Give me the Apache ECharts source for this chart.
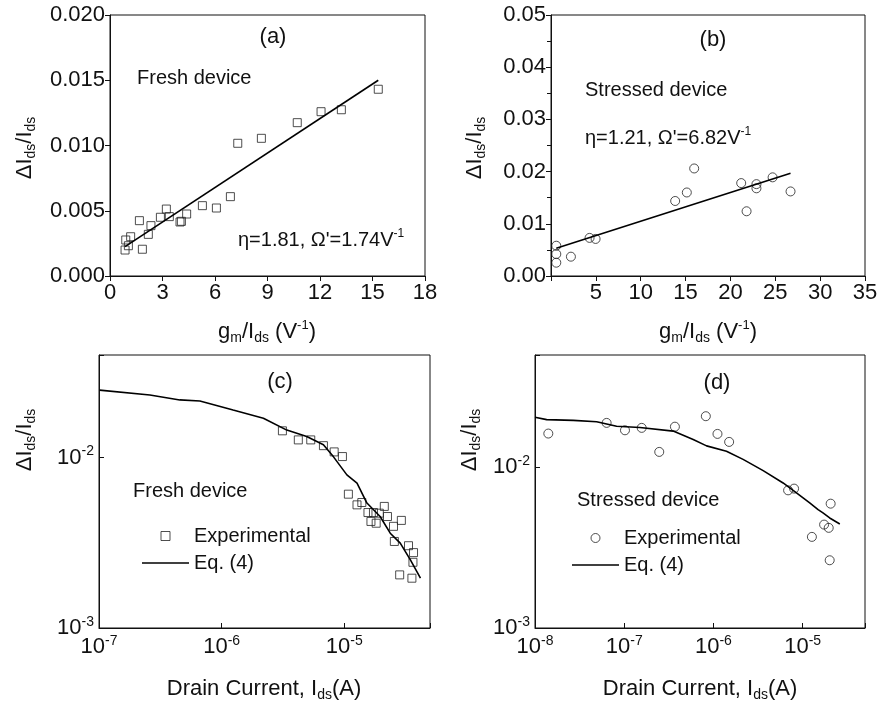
<!DOCTYPE html>
<html>
<head>
<meta charset="utf-8">
<script src="https://cdn.jsdelivr.net/npm/echarts@6/dist/echarts.min.js"></script>
<style>
  html, body { margin: 0; padding: 0; background: #fff; }
  #chart { width: 882px; height: 708px; }
</style>
</head>
<body>
<div id="chart"></div>
<script>
// (a) fresh device, dI/I vs gm/Ids
var freshGm = [0.86, 0.90, 1.05, 1.18, 1.68, 1.85, 2.19, 2.34, 2.88, 3.22, 3.39, 4.00, 4.08, 4.38, 5.28, 6.08, 6.88, 7.30, 8.65, 10.70, 12.06, 13.22, 15.33];
var freshDI = [0.00199, 0.00276, 0.00232, 0.00301, 0.00424, 0.00205, 0.00319, 0.00386, 0.00450, 0.00513, 0.00455, 0.00414, 0.00419, 0.00475, 0.00539, 0.00521, 0.00608, 0.01017, 0.01055, 0.01175, 0.01259, 0.01274, 0.01431];
var freshFitGm = [0.86, 15.33];
var freshFitDI = [0.00225, 0.0150];

// (b) stressed device
var stressGm = [0.59, 0.59, 0.59, 2.22, 4.30, 4.97, 13.84, 15.14, 15.96, 21.2, 21.8, 22.9, 22.9, 24.7, 26.7];
var stressDI = [0.0058, 0.0042, 0.00255, 0.0037, 0.0073, 0.0071, 0.01437, 0.0160, 0.0206, 0.0178, 0.0124, 0.0176, 0.0168, 0.0189, 0.0162];
var stressFitGm = [0.59, 26.7];
var stressFitDI = [0.0053, 0.0197];

// (c) fresh device vs drain current
var freshIds = [3.13e-6, 4.22e-6, 5.33e-6, 6.76e-6, 8.27e-6, 9.66e-6, 1.08e-5, 1.27e-5, 1.39e-5, 1.56e-5, 1.82e-5, 2.12e-5, 1.93e-5, 1.73e-5, 2.25e-5, 1.65e-5, 2.52e-5, 2.92e-5, 2.56e-5, 3.34e-5, 3.67e-5, 3.63e-5, 2.83e-5, 3.56e-5];
var freshIdsDI = [0.01436, 0.0127, 0.0127, 0.01175, 0.0108, 0.01014, 0.00610, 0.00528, 0.00545, 0.00476, 0.00412, 0.00517, 0.00472, 0.00476, 0.00451, 0.00422, 0.00395, 0.00428, 0.00322, 0.00304, 0.00277, 0.00243, 0.00205, 0.00196];
var freshEqIds = [1.01e-7, 2.6e-7, 4.56e-7, 6.65e-7, 1.24e-6, 2.19e-6, 3.40e-6, 4.94e-6, 6.76e-6, 8.17e-6, 1.05e-5, 1.27e-5, 1.53e-5, 1.96e-5, 2.37e-5, 2.86e-5, 3.46e-5, 4.18e-5];
var freshEqDI = [0.0249, 0.0233, 0.0218, 0.0215, 0.0190, 0.0170, 0.0145, 0.0133, 0.0119, 0.0101, 0.00792, 0.00708, 0.00541, 0.00451, 0.00360, 0.00315, 0.00251, 0.00196];

// (d) stressed device vs drain current
var stressIds = [1.41e-8, 6.35e-8, 1.02e-7, 1.57e-7, 2.47e-7, 3.70e-7, 8.22e-7, 1.11e-6, 1.50e-6, 6.87e-6, 8.02e-6, 1.27e-5, 1.74e-5, 1.96e-5, 2.06e-5, 2.01e-5];
var stressIdsDI = [0.01622, 0.0189, 0.0170, 0.0176, 0.01247, 0.0179, 0.0208, 0.01614, 0.01439, 0.00719, 0.00737, 0.00369, 0.00440, 0.00420, 0.00594, 0.00264];
var stressEqIds = [1.0e-8, 1.35e-8, 2.69e-8, 4.91e-8, 8.22e-8, 1.50e-7, 3.54e-7, 5.93e-7, 8.38e-7, 1.40e-6, 2.15e-6, 3.61e-6, 6.04e-6, 8.53e-6, 1.20e-5, 1.49e-5, 1.69e-5, 2.01e-5, 2.61e-5];
var stressEqDI = [0.0205, 0.0198, 0.0196, 0.0192, 0.0180, 0.0177, 0.0168, 0.0149, 0.0136, 0.0126, 0.0112, 0.00953, 0.00799, 0.00693, 0.00600, 0.00545, 0.00520, 0.00484, 0.00444];

var FONT = '"Liberation Sans", Arial, sans-serif';
var INK = '#111';

function zip(xs, ys) {
  return xs.map(function (x, i) { return [x, ys[i]]; });
}

function powLabel(v) {
  var e = Math.log10(v);
  var r = Math.round(e);
  if (Math.abs(e - r) > 1e-6) return '';
  return '{b|10}{s|' + r + '}';
}

var powRich = {
  b: { fontSize: 22, fontFamily: FONT, color: INK, lineHeight: 26 },
  s: { fontSize: 14, fontFamily: FONT, color: INK, lineHeight: 10, verticalAlign: 'top' }
};

var textRich = {
  m: { fontSize: 22, fontFamily: FONT, fill: INK, lineHeight: 26 },
  s: { fontSize: 14, fontFamily: FONT, fill: INK, lineHeight: 10, verticalAlign: 'bottom' },
  p: { fontSize: 13, fontFamily: FONT, fill: INK, lineHeight: 10, verticalAlign: 'top' },
  n: { fontSize: 20, fontFamily: FONT, fill: INK, lineHeight: 24 },
  q: { fontSize: 12, fontFamily: FONT, fill: INK, lineHeight: 9, verticalAlign: 'top' }
};

function txt(x, y, text, align, rot) {
  return {
    type: 'text', x: x, y: y, rotation: rot || 0, silent: true,
    style: { text: text, rich: textRich, align: align || 'center', verticalAlign: 'middle', fill: INK, fontFamily: FONT, fontSize: 20 }
  };
}

var lineAxis = { lineStyle: { color: INK, width: 1 } };
var labelBase = { fontSize: 22, fontFamily: FONT, color: INK };

function linearX(grid, max, interval, hideZero) {
  return {
    type: 'value', gridIndex: grid, min: 0, max: max, interval: interval,
    axisLine: lineAxis, splitLine: { show: false },
    axisTick: { length: 5, lineStyle: { color: INK } },
    axisLabel: Object.assign({ margin: 6, formatter: function (v) { return hideZero && v === 0 ? '' : String(v); } }, labelBase)
  };
}

function linearY(grid, max, interval, digits, minor) {
  return {
    type: 'value', gridIndex: grid, min: 0, max: max, interval: interval,
    axisLine: lineAxis, splitLine: { show: false },
    axisTick: { length: 5, lineStyle: { color: INK } },
    minorTick: { show: !!minor, splitNumber: 2, length: 4, lineStyle: { color: INK } },
    axisLabel: Object.assign({ margin: 5, formatter: function (v) { return v.toFixed(digits); } }, labelBase)
  };
}

function logAxis(grid, min, max, margin) {
  return {
    type: 'log', logBase: 10, gridIndex: grid, min: min, max: max,
    axisLine: lineAxis, splitLine: { show: false },
    axisTick: { inside: true, length: 5, lineStyle: { color: INK } },
    axisLabel: { margin: margin, formatter: powLabel, rich: powRich, fontFamily: FONT, color: INK }
  };
}

function gridBox(left, top, width, height) {
  return { left: left, top: top, width: width, height: height, show: true, borderColor: INK, borderWidth: 1, backgroundColor: 'transparent' };
}

var squareStyle = { color: 'transparent', borderColor: '#222', borderWidth: 1 };
var fitLine = { color: '#000', width: 1.6 };
var fitItem = { color: '#000' };
var squareIcon = 'path://M0,0L10,0L10,10L0,10Z';
var lineIcon = 'path://M0,0L47,0L47,1.7L0,1.7Z';

function legendBox(left, top, names, icon, fmt) {
  return {
    orient: 'vertical', left: left, top: top, itemWidth: 47, itemHeight: 9, itemGap: 7,
    symbolKeepAspect: true, selectedMode: false,
    textStyle: { fontSize: 20, fontFamily: FONT, color: INK },
    formatter: fmt,
    data: [
      { name: names[0], icon: icon, itemStyle: squareStyle },
      { name: names[1], icon: lineIcon, itemStyle: { color: '#000', borderWidth: 0 } }
    ]
  };
}

var option = {
  animation: false,
  backgroundColor: '#fff',
  grid: [
    gridBox(110, 15, 315, 261),
    gridBox(551, 15, 314, 261),
    gridBox(99, 355, 331, 273),
    gridBox(535, 355, 330, 273)
  ],
  xAxis: [
    linearX(0, 18, 3, false),
    linearX(1, 35, 5, true),
    logAxis(2, 1e-7, 5e-5, 6),
    logAxis(3, 1e-8, 5e-5, 6)
  ],
  yAxis: [
    linearY(0, 0.02, 0.005, 3, false),
    linearY(1, 0.05, 0.01, 2, true),
    logAxis(2, 1e-3, 0.04, 5),
    logAxis(3, 1e-3, 0.05, 5)
  ],
  legend: [
    legendBox(137, 521, ['Experimental', 'Eq. (4)'], squareIcon, '{name}'),
    legendBox(567, 523, ['Experimental (d)', 'Eq. (4) (d)'], 'circle', function (n) { return n.replace(' (d)', ''); })
  ],
  series: [
    { type: 'scatter', xAxisIndex: 0, yAxisIndex: 0, symbol: 'rect', symbolSize: 8, itemStyle: squareStyle, data: zip(freshGm, freshDI) },
    { type: 'line', xAxisIndex: 0, yAxisIndex: 0, showSymbol: false, itemStyle: fitItem, lineStyle: fitLine, data: zip(freshFitGm, freshFitDI) },
    { type: 'scatter', xAxisIndex: 1, yAxisIndex: 1, symbol: 'circle', symbolSize: 9, itemStyle: squareStyle, data: zip(stressGm, stressDI) },
    { type: 'line', xAxisIndex: 1, yAxisIndex: 1, showSymbol: false, itemStyle: fitItem, lineStyle: fitLine, data: zip(stressFitGm, stressFitDI) },
    { name: 'Experimental', type: 'scatter', xAxisIndex: 2, yAxisIndex: 2, symbol: 'rect', symbolSize: 8, itemStyle: squareStyle, data: zip(freshIds, freshIdsDI) },
    { name: 'Eq. (4)', type: 'line', xAxisIndex: 2, yAxisIndex: 2, symbol: 'none', itemStyle: fitItem, lineStyle: fitLine, data: zip(freshEqIds, freshEqDI) },
    { name: 'Experimental (d)', type: 'scatter', xAxisIndex: 3, yAxisIndex: 3, symbol: 'circle', symbolSize: 9, itemStyle: squareStyle, data: zip(stressIds, stressIdsDI) },
    { name: 'Eq. (4) (d)', type: 'line', xAxisIndex: 3, yAxisIndex: 3, symbol: 'none', itemStyle: fitItem, lineStyle: fitLine, data: zip(stressEqIds, stressEqDI) }
  ],
  graphic: [
    txt(25, 148, '{m|ΔI}{s|ds}{m|/I}{s|ds}', 'center', Math.PI / 2),
    txt(475, 148, '{m|ΔI}{s|ds}{m|/I}{s|ds}', 'center', Math.PI / 2),
    txt(25, 440, '{m|ΔI}{s|ds}{m|/I}{s|ds}', 'center', Math.PI / 2),
    txt(470, 440, '{m|ΔI}{s|ds}{m|/I}{s|ds}', 'center', Math.PI / 2),
    txt(267, 332, '{m|g}{s|m}{m|/I}{s|ds}{m| (V}{p|-1}{m|)}'),
    txt(708, 332, '{m|g}{s|m}{m|/I}{s|ds}{m| (V}{p|-1}{m|)}'),
    txt(264, 689, '{m|Drain Current, I}{s|ds}{m|(A)}'),
    txt(700, 689, '{m|Drain Current, I}{s|ds}{m|(A)}'),
    txt(273, 37, '{m|(a)}'),
    txt(713, 40, '{m|(b)}'),
    txt(280, 382, '{m|(c)}'),
    txt(717, 383, '{m|(d)}'),
    txt(137, 78, '{n|Fresh device}', 'left'),
    txt(238, 240, "{n|η=1.81, Ω'=1.74V}{q|-1}", 'left'),
    txt(585, 90, '{n|Stressed device}', 'left'),
    txt(585, 138, "{n|η=1.21, Ω'=6.82V}{q|-1}", 'left'),
    txt(133, 491, '{n|Fresh device}', 'left'),
    txt(577, 500, '{n|Stressed device}', 'left')
  ]
};

var chart = echarts.init(document.getElementById('chart'));
chart.setOption(option);
</script>
</body>
</html>
